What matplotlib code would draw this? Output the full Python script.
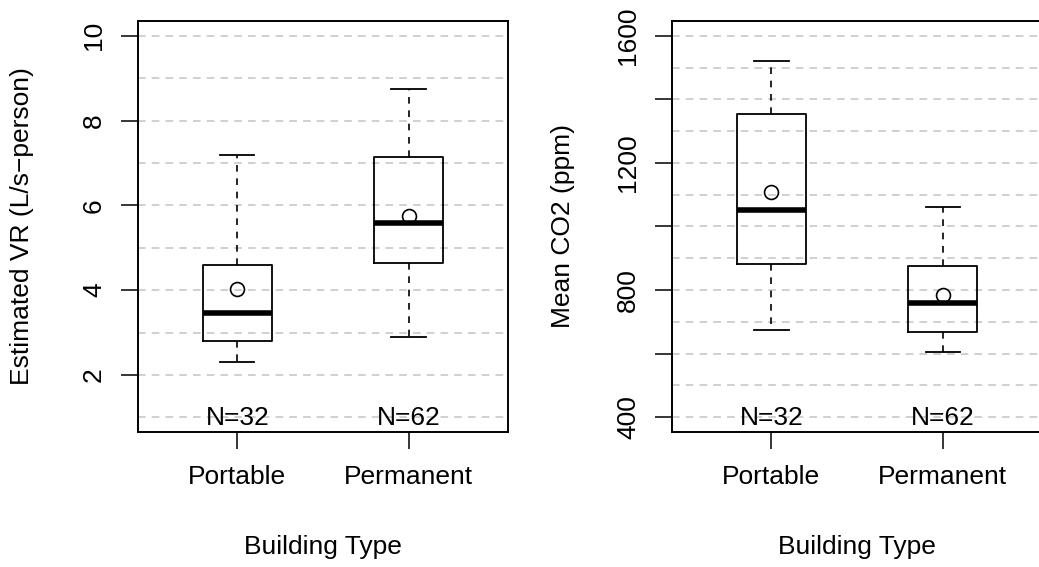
import matplotlib
matplotlib.use("Agg")
import matplotlib.pyplot as plt

plt.rcParams['font.family'] = ['Liberation Sans', 'DejaVu Sans']

groups = ["Portable", "Permanent"]
counts = [32, 62]

# ventilation rate (L/s-person): whislo, q1, med, q3, whishi, mean
vr_whislo = [2.30, 2.90]
vr_q1 = [2.80, 4.63]
vr_med = [3.47, 5.58]
vr_q3 = [4.60, 7.13]
vr_whishi = [7.20, 8.74]
vr_mean = [4.03, 5.75]

# mean CO2 (ppm)
co2_whislo = [675, 606]
co2_q1 = [881, 668]
co2_med = [1051, 758]
co2_q3 = [1355, 877]
co2_whishi = [1521, 1061]
co2_mean = [1110, 783]


def stats(lo, q1, med, q3, hi, mean):
    return [dict(whislo=lo[i], q1=q1[i], med=med[i], q3=q3[i], whishi=hi[i],
                 mean=mean[i], label=groups[i], fliers=[]) for i in range(len(groups))]


def draw(ax, st, ylim, grid, ticks, ticklabels, ylabel, nlab_y):
    for g in grid:
        ax.axhline(g, color='#c4c4c4', lw=1.1, ls=(0, (5, 4)), zorder=0)
    ax.bxp(st, positions=[1, 2], widths=0.4, showmeans=True, showfliers=False,
           boxprops=dict(color='black', lw=1.3),
           medianprops=dict(color='black', lw=4, solid_capstyle='butt'),
           whiskerprops=dict(color='black', lw=1.2, ls=(0, (4, 4))),
           capprops=dict(color='black', lw=1.3), capwidths=0.2,
           meanprops=dict(marker='o', markerfacecolor='none', markeredgecolor='black',
                          markersize=10, markeredgewidth=1.2))
    for i, n in enumerate(counts):
        ax.text(i + 1, nlab_y, f"N={n}", ha='center', va='center', fontsize=19)
    ax.set_xlim(0.42, 2.58)
    ax.set_ylim(*ylim)
    ax.set_yticks(ticks)
    ax.set_yticklabels(ticklabels, rotation=90, va='center', fontsize=19)
    ax.set_xticks([1, 2])
    ax.set_xticklabels(groups, fontsize=19)
    ax.tick_params(axis='both', length=12, width=1.1, direction='out')
    ax.tick_params(axis='y', pad=11)
    ax.tick_params(axis='x', pad=12)
    for s in ax.spines.values():
        s.set_linewidth(1.4)
    ax.set_ylabel(ylabel, fontsize=19)
    ax.set_xlabel("Building Type", fontsize=19)
    ax.xaxis.set_label_coords(0.5, -0.25)


fig = plt.figure(figsize=(10.39, 5.67), dpi=100)
ax1 = fig.add_axes([0.1328, 0.2381, 0.3561, 0.7249])
ax2 = fig.add_axes([0.6468, 0.2381, 0.3561, 0.7249])

draw(ax1, stats(vr_whislo, vr_q1, vr_med, vr_q3, vr_whishi, vr_mean),
     (0.655, 10.35), range(1, 11), [2, 4, 6, 8, 10], ["2", "4", "6", "8", "10"],
     "Estimated VR (L/s\u2212person)", 0.98)
ax1.yaxis.set_label_coords(-0.28, 0.5)

draw(ax2, stats(co2_whislo, co2_q1, co2_med, co2_q3, co2_whishi, co2_mean),
     (353, 1647), range(400, 1700, 100), [400, 600, 800, 1000, 1200, 1400, 1600],
     ["400", "", "800", "", "1200", "", "1600"], "Mean CO2 (ppm)", 397)
ax2.yaxis.set_label_coords(-0.262, 0.5)

fig.savefig("out.png", dpi=100)
